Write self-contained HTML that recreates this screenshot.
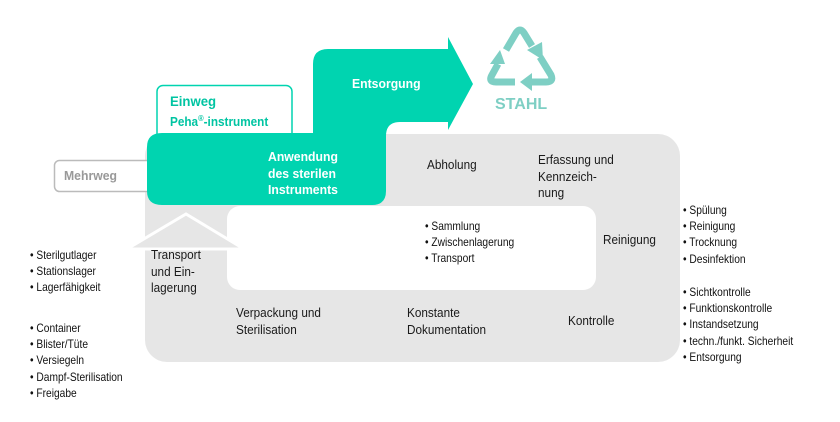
<!DOCTYPE html>
<html><head><meta charset="utf-8"><style>
body{margin:0;width:840px;height:422px;background:#fff;position:relative;overflow:hidden;font-family:"Liberation Sans",sans-serif;}
.t{position:absolute;font-size:12.5px;color:#1a1a1a;line-height:16.5px;white-space:nowrap;transform-origin:0 0;transform:scaleX(0.94)}
.s{position:absolute;font-size:12px;color:#111;line-height:16.2px;white-space:nowrap;transform-origin:0 0;transform:scaleX(0.85)}
.w{color:#fff;font-weight:bold}
</style></head><body>
<svg width="840" height="422" style="position:absolute;left:0;top:0">
<rect x="145" y="134" width="535" height="228" rx="22" fill="#e6e6e6"/>
<rect x="227" y="206" width="369" height="84" rx="13" fill="#fff"/>
<rect x="54.5" y="160.5" width="100" height="31" rx="5" fill="#fff" stroke="#bbb" stroke-width="1.5"/>
<polygon points="127,249 186,214 244,249" fill="#e6e6e6" stroke="#fff" stroke-width="3" stroke-linejoin="miter"/>
<rect x="157" y="85.5" width="135" height="60" rx="6" fill="#fff" stroke="#00d4b0" stroke-width="1.5"/>
<path d="M162,133 H313 V64 Q313,49 328,49 H448 V37 L473,84 L448,130 V122 H400 Q386,122 386,136 V191 Q386,205 372,205 H162 Q147,205 147,191 V147 Q147,133 162,133 Z" fill="#00d4b0"/>
<g stroke="#7ecfc4" stroke-width="7" fill="none" stroke-linejoin="round">
<path d="M506,50 L516,33 Q520,27 524,33 L532,46"/>
<path d="M540,57 L551,75 Q554,82 546,82 L530,82"/>
<path d="M515,82 L496,82 Q488,82 492,75 L498,64"/>
</g>
<g fill="#7ecfc4">
<polygon points="527,50 542,42 543,60"/>
<polygon points="532,73 532,91 520,82"/>
<polygon points="490,64 505,64 500,50"/>
</g>
</svg>
<div style="position:absolute;left:495px;top:96px;font-size:16px;font-weight:bold;color:#7ecfc4">STAHL</div>
<div class="t w" style="left:352px;top:76px;font-size:13px">Entsorgung</div>
<div class="t" style="left:170px;top:93px;font-size:14px;font-weight:bold;color:#00c4a2">Einweg</div>
<div class="t" style="left:170px;top:111px;font-size:12.5px;font-weight:bold;color:#00c4a2">Peha<sup style="font-size:8px">®</sup>-instrument</div>
<div class="t" style="left:64px;top:168px;font-size:13px;font-weight:bold;color:#999">Mehrweg</div>
<div class="t w" style="left:268px;top:149px;font-size:13px">Anwendung<br>des sterilen<br>Instruments</div>
<div class="t" style="left:427px;top:157px">Abholung</div>
<div class="t" style="left:538px;top:152px">Erfassung und<br>Kennzeich-<br>nung</div>
<div class="t" style="left:603px;top:232px">Reinigung</div>
<div class="t" style="left:151px;top:247px">Transport<br>und Ein-<br>lagerung</div>
<div class="t" style="left:236px;top:305px">Verpackung und<br>Sterilisation</div>
<div class="t" style="left:407px;top:305px">Konstante<br>Dokumentation</div>
<div class="t" style="left:568px;top:313px">Kontrolle</div>
<div class="s" style="left:425px;top:218px">• Sammlung<br>• Zwischenlagerung<br>• Transport</div>
<div class="s" style="left:30px;top:247px">• Sterilgutlager<br>• Stationslager<br>• Lagerfähigkeit</div>
<div class="s" style="left:30px;top:320px">• Container<br>• Blister/Tüte<br>• Versiegeln<br>• Dampf-Sterilisation<br>• Freigabe</div>
<div class="s" style="left:683px;top:202px">• Spülung<br>• Reinigung<br>• Trocknung<br>• Desinfektion</div>
<div class="s" style="left:683px;top:284px">• Sichtkontrolle<br>• Funktionskontrolle<br>• Instandsetzung<br>• techn./funkt. Sicherheit<br>• Entsorgung</div>
</body></html>
